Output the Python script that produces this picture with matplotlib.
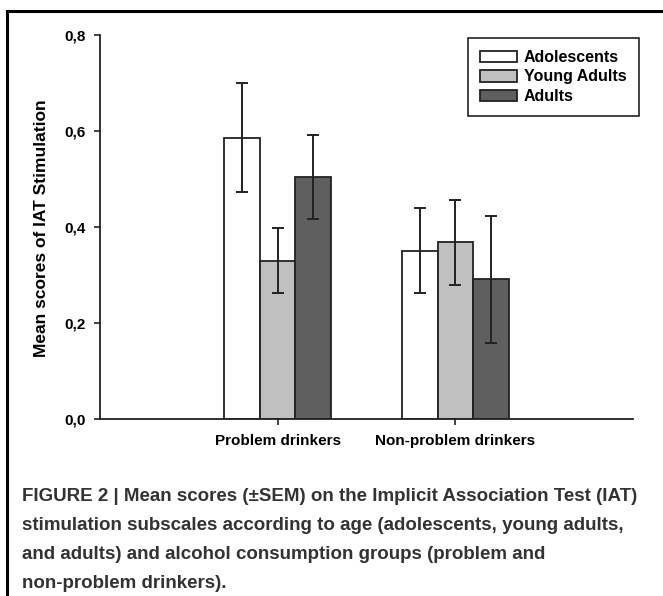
import numpy as np
import matplotlib.pyplot as plt
from matplotlib.lines import Line2D

# data
groups = ["Problem drinkers", "Non-problem drinkers"]
series = ["Adolescents", "Young Adults", "Adults"]
means = {
    "Adolescents": [0.586, 0.351],
    "Young Adults": [0.330, 0.368],
    "Adults": [0.504, 0.291],
}
sem = {
    "Adolescents": [0.113, 0.089],
    "Young Adults": [0.067, 0.088],
    "Adults": [0.088, 0.132],
}
yticks = [0.0, 0.2, 0.4, 0.6, 0.8]
ytick_labels = ["0,0", "0,2", "0,4", "0,6", "0,8"]
colors = ["#ffffff", "#c0c0c0", "#5f5f5f"]

caption = ("FIGURE 2 | Mean scores (\u00b1SEM) on the Implicit Association Test (IAT)\n"
           "stimulation subscales according to age (adolescents, young adults,\n"
           "and adults) and alcohol consumption groups (problem and\n"
           "non-problem drinkers).")

sans = ["Liberation Sans", "DejaVu Sans"]

W, H = 663, 596
fig = plt.figure(figsize=(W / 100, H / 100), dpi=100)
ax = fig.add_axes([100 / W, 1 - 419 / H, 533 / W, 384 / H])

x = np.arange(len(groups))
width = 0.2
for i, s in enumerate(series):
    ax.bar(x + (i - 1) * width, means[s], width, yerr=sem[s],
           color=colors[i], edgecolor="#222222", linewidth=1.3, label=s,
           error_kw=dict(ecolor="#222222", elinewidth=1.4, capsize=4.5, capthick=1.4))

ax.set_xlim(-1, 2)
ax.set_ylim(0, 0.8)
ax.set_xticks(x)
ax.set_xticklabels(groups, fontfamily=sans, fontweight="bold", fontsize=11)
ax.set_yticks(yticks)
ax.set_yticklabels(ytick_labels, fontfamily=sans, fontweight="bold", fontsize=11)
ax.tick_params(direction="out", length=4.5, width=1.2, color="#222222", pad=6)
for side in ["top", "right"]:
    ax.spines[side].set_visible(False)
for side in ["left", "bottom"]:
    ax.spines[side].set_linewidth(1.3)
    ax.spines[side].set_color("#222222")

fig.text(42 / W, 1 - 228 / H, "Mean scores of IAT Stimulation", rotation=90,
         ha="center", va="center", fontfamily=sans, fontweight="bold", fontsize=12.5)

leg = ax.legend(loc="upper left", bbox_to_anchor=(468 / W, 1 - 38 / H),
                bbox_transform=fig.transFigure, borderaxespad=0, fancybox=False,
                edgecolor="#222222", framealpha=1, handlelength=2.3, handleheight=0.75,
                handletextpad=0.45, labelspacing=0.28, borderpad=0.75,
                prop=dict(family=sans, weight="bold", size=11.5))
leg.get_frame().set_linewidth(1.2)

fig.text(22 / W, 1 - 488 / H, caption, ha="left", va="top",
         fontfamily=sans, fontweight="bold", fontsize=13.5, color="#333333",
         linespacing=1.93)

# border of the figure panel (top and left)
fig.add_artist(Line2D([7 / W, 1], [1 - 11 / H, 1 - 11 / H], color="black", lw=2.2,
                      transform=fig.transFigure))
fig.add_artist(Line2D([7 / W, 7 / W], [0, 1 - 11 / H], color="black", lw=2.2,
                      transform=fig.transFigure))

fig.savefig("out.png", dpi=100)
